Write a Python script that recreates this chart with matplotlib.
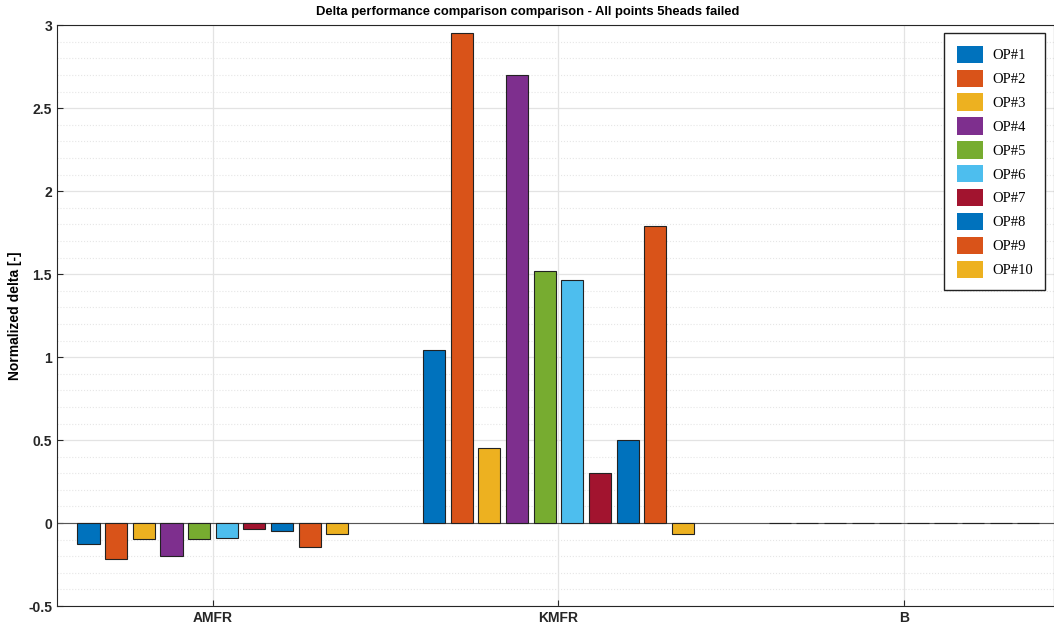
import matplotlib.pyplot as plt
import numpy as np
from matplotlib.ticker import MultipleLocator

# Data
categories = ['AMFR', 'KMFR', 'B']
series_names = ['OP#1', 'OP#2', 'OP#3', 'OP#4', 'OP#5',
                'OP#6', 'OP#7', 'OP#8', 'OP#9', 'OP#10']
amfr = [-0.129, -0.219, -0.095, -0.197, -0.095, -0.091, -0.038, -0.050, -0.147, -0.068]
kmfr = [1.044, 2.955, 0.454, 2.702, 1.516, 1.466, 0.300, 0.500, 1.793, -0.064]
b = [0, 0, 0, 0, 0, 0, 0, 0, 0, 0]

# MATLAB default colour order
colors = ['#0072BD', '#D95319', '#EDB120', '#7E2F8E', '#77AC30',
          '#4DBEEE', '#A2142F', '#0072BD', '#D95319', '#EDB120']

values = np.array([amfr, kmfr, b])

fig = plt.figure(figsize=(10.54, 6.3), dpi=100)
ax = fig.add_axes([0.054, 0.038, 0.946, 0.922])

x = np.arange(1, len(categories) + 1)
n = len(series_names)
step = 0.080
width = 0.064
for i in range(n):
    offs = (i - (n - 1) / 2) * step
    ax.bar(x + offs, values[:, i], width, color=colors[i],
           edgecolor='#222222', linewidth=0.8, label=series_names[i], zorder=3)

ax.set_xlim(1 - 0.4515, 3 + 0.434)
ax.set_ylim(-0.5, 3)
ax.set_xticks(x)
ax.set_xticklabels(categories, fontweight='bold', family='Liberation Sans', fontsize=10)
ax.yaxis.set_minor_locator(MultipleLocator(0.1))
ax.set_yticks([-0.5, 0, 0.5, 1, 1.5, 2, 2.5, 3])
ax.set_yticklabels(['-0.5', '0', '0.5', '1', '1.5', '2', '2.5', '3'],
                   fontweight='bold', family='Liberation Sans', fontsize=10)
ax.tick_params(axis='both', which='both', direction='in', length=4, colors='#262626')
ax.tick_params(axis='y', which='minor', length=0)

ax.grid(True, which='major', color='#e3e3e3', linewidth=0.9, zorder=0)
ax.grid(True, which='minor', axis='y', color='#e6e6e6', linestyle=':', linewidth=0.8, zorder=0)
ax.set_axisbelow(True)
for s in ax.spines.values():
    s.set_color('#262626')
    s.set_linewidth(0.8)

ax.axhline(0, color='#555555', linewidth=0.8, zorder=2)

ax.set_ylabel('Normalized delta [-]', fontweight='bold', family='Liberation Sans', fontsize=10)
ax.set_title('Delta performance comparison comparison - All points 5heads failed',
             fontweight='bold', family='Liberation Sans', fontsize=9.4, pad=7, x=0.472)

leg = ax.legend(loc='upper right', bbox_to_anchor=(0.991, 0.986), borderaxespad=0,
                prop={'family': 'Liberation Serif', 'size': 10.5},
                fancybox=False, edgecolor='#222222', framealpha=1,
                handlelength=1.8, handleheight=1.45, labelspacing=0.45,
                borderpad=0.85, handletextpad=0.6)
leg.get_frame().set_linewidth(1.0)
for h in leg.legend_handles:
    h.set_edgecolor('none')

fig.savefig('out.png', dpi=100)
